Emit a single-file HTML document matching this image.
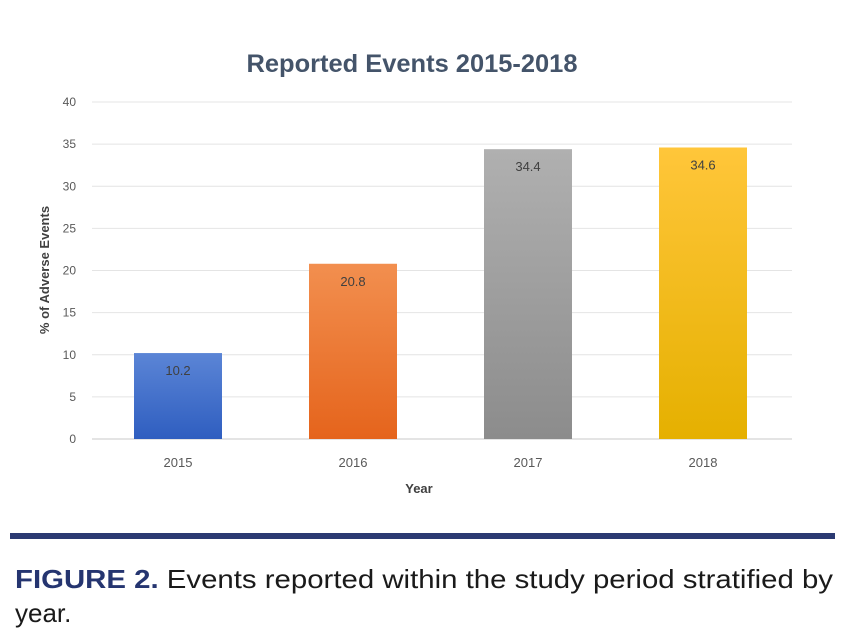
<!DOCTYPE html>
<html><head><meta charset="utf-8"><style>
html,body{margin:0;padding:0;background:#fff;}
svg{display:block;font-family:"Liberation Sans",sans-serif;}
</style></head><body>
<svg id="chart" width="846" height="644" viewBox="0 0 846 644">
<defs>
<linearGradient id="g0" x1="0" y1="0" x2="0" y2="1"><stop offset="0" stop-color="#5b85d6"/><stop offset="1" stop-color="#2f5ec0"/></linearGradient>
<linearGradient id="g1" x1="0" y1="0" x2="0" y2="1"><stop offset="0" stop-color="#f28f4f"/><stop offset="1" stop-color="#e5641c"/></linearGradient>
<linearGradient id="g2" x1="0" y1="0" x2="0" y2="1"><stop offset="0" stop-color="#b0b0b0"/><stop offset="1" stop-color="#8c8c8c"/></linearGradient>
<linearGradient id="g3" x1="0" y1="0" x2="0" y2="1"><stop offset="0" stop-color="#ffc63a"/><stop offset="1" stop-color="#e5b000"/></linearGradient>
</defs>
<text x="412" y="72" text-anchor="middle" font-size="25" font-weight="bold" textLength="331" lengthAdjust="spacingAndGlyphs" fill="#44546a">Reported Events 2015-2018</text>
<g id="grid"></g>
<g id="bars"></g>
<text x="419" y="493" text-anchor="middle" font-size="13" font-weight="bold" fill="#404040">Year</text>
<text transform="translate(49,270) rotate(-90)" text-anchor="middle" font-size="13" font-weight="bold" fill="#404040">% of Adverse Events</text>
<rect x="10" y="533" width="825" height="6" fill="#2b3a72"/>
<text x="15" y="588" font-size="26" textLength="818" lengthAdjust="spacingAndGlyphs" fill="#1a1a1a" style="font-family:'Liberation Sans Narrow','Liberation Sans',sans-serif"><tspan fill="#253570" font-weight="bold">FIGURE 2.</tspan> Events reported within the study period stratified by</text>
<text x="15" y="622" font-size="26" fill="#1a1a1a" style="font-family:'Liberation Sans Narrow','Liberation Sans',sans-serif">year.</text>
</svg>
<script>
const categories=["2015","2016","2017","2018"];
const values=[10.2,20.8,34.4,34.6];
const labels=["10.2","20.8","34.4","34.6"];
const yTicks=[0,5,10,15,20,25,30,35,40];
const NS="http://www.w3.org/2000/svg";
const x0=90.5,band=175,barW=88,plotR=792;
const y=v=>439-v*(337/40);
const xc=i=>x0+band*i+band/2;
function mk(tag,attrs,parent,text){const e=document.createElementNS(NS,tag);for(const k in attrs)e.setAttribute(k,attrs[k]);if(text!==undefined)e.textContent=text;parent.appendChild(e);return e;}
const grid=document.getElementById('grid'),bars=document.getElementById('bars');
yTicks.forEach(t=>{
 const l=mk('line',{x1:92,x2:plotR,y1:y(t),y2:y(t),stroke:t===0?'#c8c8c8':'#e4e4e4','stroke-width':1},grid);
 
 
 const tx=mk('text',{x:76,y:y(t)+4,'text-anchor':'end','font-size':12,fill:'#595959'},grid,String(t));
 
 
});
categories.forEach((c,i)=>{
 const r=mk('rect',{x:xc(i)-barW/2,y:y(values[i]),width:barW,height:439-y(values[i]),fill:'url(#g'+i+')'},bars);
 
 
 const v=mk('text',{x:xc(i),y:y(values[i])+22,'text-anchor':'middle','font-size':13,fill:'#404040'},bars,labels[i]);
 
 
 const xl=mk('text',{x:xc(i),y:467,'text-anchor':'middle','font-size':13,fill:'#595959'},bars,c);
 
 
});
</script>
</body></html>
